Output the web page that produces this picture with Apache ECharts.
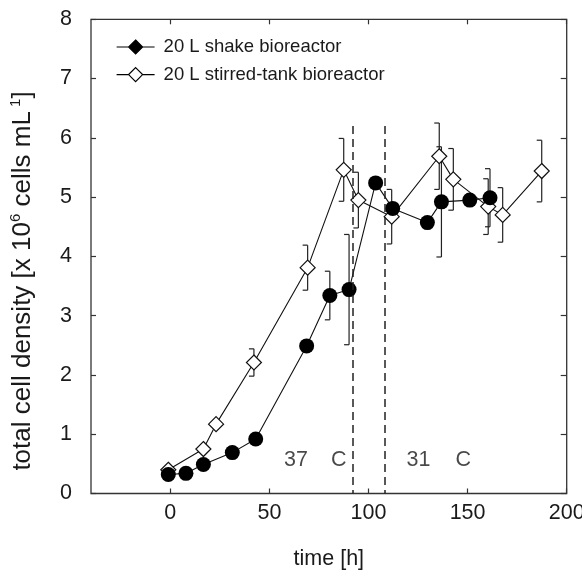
<!DOCTYPE html>
<html><head><meta charset="utf-8">
<script src="https://cdn.jsdelivr.net/npm/echarts@6/dist/echarts.min.js"></script>
<style>html,body{margin:0;padding:0;background:#fff}#c{width:582px;height:571px}</style>
</head><body><div id="c"></div>
<script>
// ---- data ----
const shakeName = '20 L shake bioreactor';
const stirName = '20 L stirred-tank bioreactor';
const shakeTime    = [-1, 7.9, 16.7, 31.3, 43.1, 68.8, 80.5, 90.2, 103.6, 112.2, 129.7, 136.8, 151.1, 161.3];
const shakeDensity = [0.32, 0.34, 0.49, 0.69, 0.92, 2.49, 3.34, 3.44, 5.24, 4.81, 4.57, 4.92, 4.95, 4.99];
const shakeErr     = [0, 0, 0, 0, 0, 0, 0.41, 0.93, 0, 0, 0, 0.93, 0, 0.49];
const stirTime     = [-1, 16.7, 23.1, 42.2, 69.3, 87.5, 94.9, 111.7, 135.7, 142.8, 160.4, 167.7, 187.4];
const stirDensity  = [0.40, 0.75, 1.17, 2.21, 3.81, 5.46, 4.95, 4.67, 5.69, 5.30, 4.84, 4.70, 5.44];
const stirErr      = [0, 0, 0, 0.23, 0.38, 0.53, 0.47, 0.46, 0.56, 0.52, 0.47, 0.46, 0.52];
const xTickValues  = [0, 50, 100, 150, 200];
const shiftTimes   = [92, 108];
const shiftTop     = 6.2;
const noteTexts    = ['37', 'C', '31', 'C'];
const noteTimes    = [63.4, 85.0, 125.2, 147.8];
const noteLevel    = 0.56;
const xTitle = 'time [h]';

// ---- chart ----
const FONT = '"Liberation Sans", Arial, Helvetica, sans-serif';
const TXT = '#1a1a1a';
const FS = 18.5;     // legend
const AFS = 21.5;    // axis labels / titles
const chart = echarts.init(document.getElementById('c'), null, {renderer: 'canvas'});

function errRender(params, api) {
  const e = api.value(2);
  if (!e) return null;
  const x = api.value(0), y = api.value(1);
  const t = api.coord([x, y + e]);
  const b = api.coord([x, y - e]);
  const cap = 5;
  const st = {stroke: '#222', lineWidth: 1.2};
  return {type: 'group', children: [
    {type: 'line', shape: {x1: t[0], y1: t[1], x2: b[0], y2: b[1]}, style: st},
    {type: 'line', shape: {x1: t[0] - cap, y1: t[1], x2: t[0], y2: t[1]}, style: st},
    {type: 'line', shape: {x1: b[0] - cap, y1: b[1], x2: b[0], y2: b[1]}, style: st}
  ]};
}

const legendPath = 'path://M0,7 L12,7 M26,7 L38,7 M19,0 L26,7 L19,14 L12,7 Z';

const option = {
  animation: false,
  backgroundColor: '#fff',
  textStyle: {fontFamily: FONT},
  grid: {left: 91, right: 15.3, top: 19.3, bottom: 77.5, outerBoundsMode: 'none', containLabel: false,
         show: true, borderColor: '#333', borderWidth: 1.3, backgroundColor: 'transparent'},
  legend: {
    orient: 'vertical', left: 111, top: 32.5, itemWidth: 38, itemHeight: 14, itemGap: 8.6,
    textStyle: {fontSize: FS, color: TXT, fontFamily: FONT, lineHeight: 18, padding: [0, 0, 0, 4]},
    data: [
      {name: shakeName, icon: legendPath, itemStyle: {color: '#000', borderColor: '#000', borderWidth: 1.2}},
      {name: stirName, icon: legendPath, itemStyle: {color: '#fff', borderColor: '#000', borderWidth: 1.2}}
    ]
  },
  xAxis: [{
    type: 'value', min: -40, max: 200, position: 'bottom',
    name: xTitle, nameLocation: 'middle', nameGap: 55,
    nameTextStyle: {fontSize: AFS, color: TXT, fontFamily: FONT},
    axisLine: {show: false, onZero: false},
    axisTick: {show: true, inside: true, length: 5, customValues: xTickValues, lineStyle: {color: '#333', width: 1.2}},
    axisLabel: {show: true, customValues: xTickValues, margin: 9, fontSize: AFS, color: TXT, fontFamily: FONT},
    splitLine: {show: false}
  }, {
    type: 'value', min: -40, max: 200, position: 'top',
    axisLine: {show: false, onZero: false},
    axisTick: {show: true, inside: true, length: 5, customValues: xTickValues, lineStyle: {color: '#333', width: 1.2}},
    axisLabel: {show: false},
    splitLine: {show: false}
  }],
  yAxis: [{
    type: 'value', min: 0, max: 8, interval: 1, position: 'left',
    axisLine: {show: false, onZero: false},
    axisTick: {show: true, inside: true, length: 5, lineStyle: {color: '#333', width: 1.2}},
    axisLabel: {show: true, margin: 19, fontSize: AFS, color: TXT, fontFamily: FONT},
    splitLine: {show: false}
  }, {
    type: 'value', min: 0, max: 8, interval: 1, position: 'right',
    axisLine: {show: false, onZero: false},
    axisTick: {show: true, inside: true, length: 6, lineStyle: {color: '#333', width: 1.2}},
    axisLabel: {show: false},
    splitLine: {show: false}
  }],
  graphic: [{
    type: 'text', x: 23, y: 281, rotation: Math.PI / 2,
    style: {
      text: 'total cell density [x 10{sup|6} cells mL{sup| 1}]',
      rich: {sup: {fontSize: 15, fontFamily: FONT, fill: TXT, verticalAlign: 'top', lineHeight: 14}},
      fontSize: 26, fontFamily: FONT, fill: TXT, align: 'center', verticalAlign: 'middle', lineHeight: 30
    }
  }],
  series: [
    {
      type: 'custom', name: 'stirErr', renderItem: errRender, z: 1, silent: true,
      data: stirTime.map((t, i) => [t, stirDensity[i], stirErr[i]])
    },
    {
      type: 'custom', name: 'shakeErr', renderItem: errRender, z: 1, silent: true,
      data: shakeTime.map((t, i) => [t, shakeDensity[i], shakeErr[i]])
    },
    {
      type: 'line', name: stirName, z: 3,
      data: stirTime.map((t, i) => [t, stirDensity[i]]),
      symbol: 'diamond', symbolSize: 15,
      lineStyle: {color: '#111', width: 1.1},
      itemStyle: {color: '#fff', borderColor: '#111', borderWidth: 1.2},
      markLine: {
        silent: true, symbol: 'none', label: {show: false},
        lineStyle: {color: '#222', width: 1.5, type: [8, 5]},
        data: shiftTimes.map(t => [{coord: [t, shiftTop]}, {coord: [t, 0]}])
      }
    },
    {
      type: 'line', name: shakeName, z: 4,
      data: shakeTime.map((t, i) => [t, shakeDensity[i]]),
      symbol: 'circle', symbolSize: 15,
      lineStyle: {color: '#111', width: 1.1},
      itemStyle: {color: '#000', borderColor: '#000', borderWidth: 0}
    },
    {
      type: 'scatter', name: 'notes', symbolSize: 2, silent: true,
      itemStyle: {color: 'rgba(0,0,0,0)'},
      data: noteTimes.map((t, i) => [t, noteLevel, noteTexts[i]]),
      label: {show: true, position: 'inside', formatter: p => p.value[2], fontSize: AFS, color: TXT, fontFamily: FONT}
    }
  ]
};
chart.setOption(option);
</script>
</body></html>
